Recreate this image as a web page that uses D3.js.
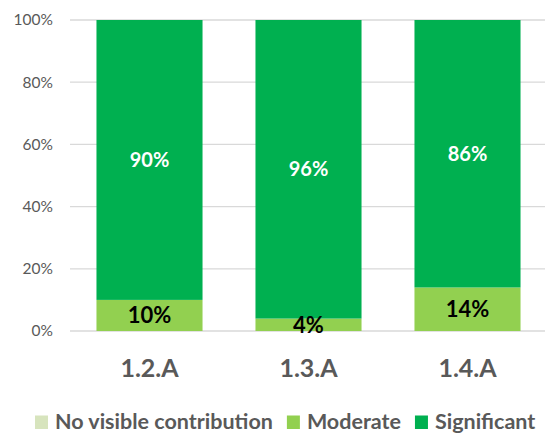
<!DOCTYPE html>
<html>
<head>
<meta charset="utf-8">
<script src="https://cdn.jsdelivr.net/npm/d3@7"></script>
<style>
  html, body { margin: 0; padding: 0; background: #fff; }
  svg { display: block; font-family: Lato, "Open Sans", sans-serif; }
</style>
</head>
<body>
<svg id="chart" width="545" height="435"></svg>
<script>
// Share of contribution per outcome
const categories = ["1.2.A", "1.3.A", "1.4.A"];
const seriesNames = ["No visible contribution", "Moderate", "Significant"];
const noVisible = [0, 0, 0];
const moderate = [10, 4, 14];
const significant = [90, 96, 86];
const yTicks = [0, 20, 40, 60, 80, 100];
const colors = ["#D7E4BD", "#92D050", "#00B050"];
const labelColors = ["#000", "#000", "#fff"];

const seriesValues = [noVisible, moderate, significant];
const rows = categories.map((c, i) => {
  const r = { cat: c };
  seriesNames.forEach((s, k) => r[s] = seriesValues[k][i]);
  return r;
});
const stacked = d3.stack().keys(seriesNames)(rows);

const svg = d3.select("#chart");
const margin = { left: 70, top: 20, right: -2, bottom: 104 };
const W = 545, H = 435;

const x = d3.scaleBand().domain(categories)
  .range([margin.left, W - margin.right]).paddingInner(0.333).paddingOuter(0.1665);
const y = d3.scaleLinear().domain([0, 100]).range([H - margin.bottom, margin.top]);

// gridlines
svg.append("g").selectAll("line").data(yTicks).join("line")
  .attr("x1", margin.left).attr("x2", W)
  .attr("y1", d => y(d)).attr("y2", d => y(d))
  .attr("stroke", "#D9D9D9").attr("stroke-width", 1.3);

// y axis labels
const yAxis = d3.axisLeft(y).tickValues(yTicks).tickFormat(d => d + "%").tickSize(0).tickPadding(0);
const yg = svg.append("g").attr("transform", `translate(${margin.left - 17},0)`).call(yAxis);
yg.select(".domain").remove();
yg.selectAll("text").attr("fill", "#595959").style("font-size", "15.5px")
  .style("font-family", "Lato, 'Open Sans', sans-serif");

// bars
const layers = svg.append("g").selectAll("g").data(stacked).join("g")
  .attr("fill", (d, i) => colors[i]);
layers.selectAll("rect").data(d => d).join("rect")
  .attr("x", d => x(d.data.cat))
  .attr("width", x.bandwidth())
  .attr("y", d => y(d[1]))
  .attr("height", d => y(d[0]) - y(d[1]));

// value labels
stacked.forEach((layer, k) => {
  svg.append("g").selectAll("text").data(layer.filter(d => d[1] - d[0] > 0)).join("text")
    .attr("x", d => x(d.data.cat) + x.bandwidth() / 2)
    .attr("y", d => (y(d[0]) + y(d[1])) / 2)
    .attr("dy", "0.36em")
    .attr("text-anchor", "middle")
    .attr("fill", labelColors[k])
    .style("font-size", k === 2 ? "20px" : "22px").style("font-weight", "bold")
    .text(d => (d[1] - d[0]) + "%");
});

// x axis labels
const xAxis = d3.axisBottom(x).tickSize(0).tickPadding(0);
const xg = svg.append("g").attr("transform", `translate(0,${y(0) + 46})`).call(xAxis);
xg.select(".domain").remove();
xg.selectAll("text").attr("fill", "#595959").attr("dy", 0)
  .style("font-size", "25px").style("font-weight", "bold")
  .style("font-family", "Lato, 'Open Sans', sans-serif");

// legend
const legend = svg.append("g").attr("transform", "translate(35,429)");
let lx = 0;
seriesNames.forEach((name, i) => {
  const g = legend.append("g").attr("transform", `translate(${lx},0)`);
  g.append("rect").attr("x", 0).attr("y", -13.5).attr("width", 13).attr("height", 13.5).attr("fill", colors[i]);
  const t = g.append("text").attr("x", 20).attr("y", 0).attr("fill", "#595959")
    .style("font-size", "21.5px").style("font-weight", "bold").text(name);
  lx += 20 + t.node().getComputedTextLength() + 14;
});
</script>
</body>
</html>
